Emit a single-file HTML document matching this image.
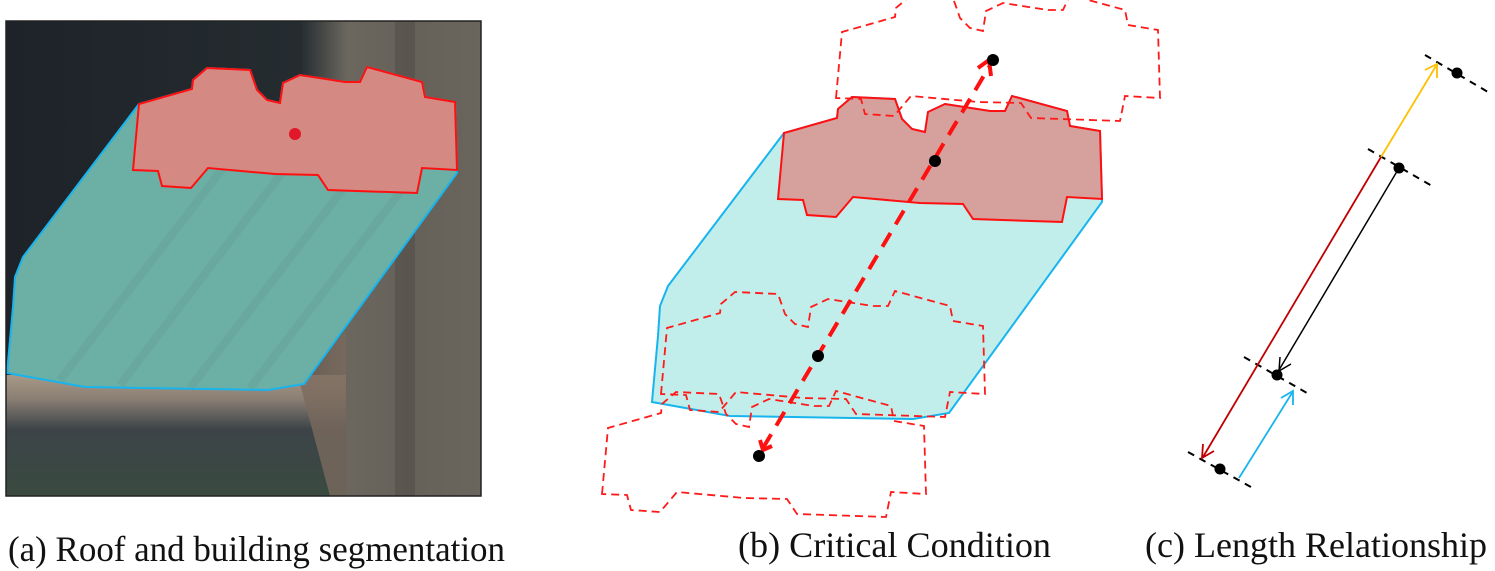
<!DOCTYPE html>
<html><head><meta charset="utf-8"><style>
html,body{margin:0;padding:0;background:#fff;}
svg{display:block;}
</style></head><body>
<svg width="1495" height="571" viewBox="0 0 1495 571" xmlns="http://www.w3.org/2000/svg">
<defs>
  <path id="bldg" d="M133,170 L139,104 L192,89 L193,80 L207,68 L250,70 L257,90 L267,100 L280,103 L283,83 L300,75 L345,82 L360,82 L367,67 L422,82 L425,97 L455,102 L457,170 L422,168 L417,193 L328,190 L318,175 L275,174 L208,168 L191,188 L162,186 L158,171 Z"/>
  <path id="roof" d="M139,104 L23,257 L15,277 L13,307 L7,373 L85,387 L268,390 L304,384 L457,173 L455,102 L425,97 L422,82 L367,67 L360,82 L345,82 L300,75 L283,83 L280,103 L267,100 L257,90 L250,70 L207,68 L193,80 L192,89 Z"/>
  <linearGradient id="bgTop" x1="0" y1="0" x2="1" y2="0">
    <stop offset="0" stop-color="#1d2328"/><stop offset="0.62" stop-color="#252c30"/><stop offset="0.72" stop-color="#6c6860"/><stop offset="0.85" stop-color="#5e5a52"/><stop offset="1" stop-color="#6a665c"/>
  </linearGradient>
  <linearGradient id="bgBot" x1="0" y1="0" x2="0" y2="1">
    <stop offset="0" stop-color="#a89a88"/><stop offset="0.2" stop-color="#8a7e74"/><stop offset="0.45" stop-color="#3c4448"/><stop offset="1" stop-color="#3a4a40"/>
  </linearGradient>
  <clipPath id="clipA"><rect x="6" y="21" width="475" height="475"/></clipPath>
</defs>

<!-- Panel A -->
<g clip-path="url(#clipA)">
  <rect x="6" y="21" width="475" height="475" fill="url(#bgTop)"/>
  <rect x="6" y="375" width="340" height="121" fill="url(#bgBot)"/>
  <polygon points="300,384 346,330 346,496 330,496" fill="#7a6a5e" opacity="0.8"/>
  <rect x="346" y="21" width="135" height="475" fill="#6a665e" opacity="0.6"/>
  <rect x="395" y="21" width="20" height="475" fill="#4e4c46" opacity="0.5"/>
  <use href="#roof" fill="#2f6f66"/>
  <g stroke="#1f544c" stroke-width="8" opacity="0.55">
    <line x1="60" y1="380" x2="260" y2="120"/><line x1="120" y1="385" x2="330" y2="110"/><line x1="190" y1="388" x2="400" y2="115"/><line x1="250" y1="388" x2="440" y2="140"/>
  </g>
  <use href="#roof" fill="#9fe3d8" fill-opacity="0.55" stroke="#17b4ee" stroke-width="2"/>
  <use href="#bldg" fill="#a8615c" stroke="none"/>
  <use href="#bldg" fill="#f4a39c" fill-opacity="0.6" stroke="#ff1010" stroke-width="2"/>
  <circle cx="295" cy="134" r="6" fill="#e0182a"/>
</g>
<rect x="6" y="21" width="475" height="475" fill="none" stroke="#222" stroke-width="1.5"/>

<!-- Panel B -->
<g>
  <use href="#roof" transform="translate(645,29)" fill="#c1eeea" stroke="#17b4ee" stroke-width="2"/>
  <use href="#bldg" transform="translate(645,29)" fill="#d6a09d" stroke="#ff1010" stroke-width="2"/>
  <use href="#bldg" transform="translate(703,-72)" fill="none" stroke="#ff1a1a" stroke-width="1.8" stroke-dasharray="8,5"/>
  <use href="#bldg" transform="translate(528,224)" fill="none" stroke="#ff1a1a" stroke-width="1.8" stroke-dasharray="8,5"/>
  <use href="#bldg" transform="translate(469,324)" fill="none" stroke="#ff1a1a" stroke-width="1.8" stroke-dasharray="8,5"/>
  <line x1="763" y1="448" x2="989" y2="67" stroke="#ff1010" stroke-width="4" stroke-dasharray="16,10"/>
  <polyline points="978,68 989,60 991,76" fill="none" stroke="#ff1010" stroke-width="4"/>
  <polyline points="760,440 763,450 772,446" fill="none" stroke="#ff1010" stroke-width="4"/>
  <circle cx="993" cy="60" r="6" fill="#000"/>
  <circle cx="935" cy="161" r="6" fill="#000"/>
  <circle cx="818" cy="356" r="6" fill="#000"/>
  <circle cx="759" cy="456" r="6" fill="#000"/>
</g>

<!-- Panel C -->
<g stroke-linecap="butt">
  <g stroke="#000" stroke-width="2" stroke-dasharray="7,6">
    <line x1="1425" y1="55" x2="1488" y2="92"/>
    <line x1="1368" y1="149" x2="1432" y2="186"/>
    <line x1="1244" y1="357" x2="1307" y2="393"/>
    <line x1="1188" y1="452" x2="1251" y2="487"/>
  </g>
  <line x1="1381" y1="157" x2="1436" y2="66" stroke="#ffc000" stroke-width="1.8"/>
  <polyline points="1425,70 1437,64 1437,78" fill="none" stroke="#ffc000" stroke-width="1.8"/>
  <line x1="1381" y1="157" x2="1203" y2="457" stroke="#c00000" stroke-width="1.8"/>
  <polyline points="1203,444 1202,458 1214,451" fill="none" stroke="#c00000" stroke-width="1.8"/>
  <line x1="1399" y1="168" x2="1279" y2="370" stroke="#000" stroke-width="1.5"/>
  <polyline points="1280,357 1279,371 1291,364" fill="none" stroke="#000" stroke-width="1.5"/>
  <line x1="1239" y1="478" x2="1292" y2="393" stroke="#17b4ee" stroke-width="1.8"/>
  <polyline points="1281,398 1293,391 1293,405" fill="none" stroke="#17b4ee" stroke-width="1.8"/>
  <circle cx="1457" cy="73" r="5.5" fill="#000"/>
  <circle cx="1399" cy="168" r="5.5" fill="#000"/>
  <circle cx="1277" cy="375" r="5.5" fill="#000"/>
  <circle cx="1220" cy="469" r="5.5" fill="#000"/>
</g>

<!-- Captions -->
<g font-family="'Liberation Serif', serif" font-size="36" fill="#111">
<text x="8" y="561" textLength="497" lengthAdjust="spacingAndGlyphs">(a)  Roof and building segmentation</text>
<text x="738" y="557" textLength="313" lengthAdjust="spacingAndGlyphs">(b)  Critical Condition</text>
<text x="1145" y="557" textLength="342" lengthAdjust="spacingAndGlyphs">(c)  Length Relationship</text>
</g>
</svg>
</body></html>
